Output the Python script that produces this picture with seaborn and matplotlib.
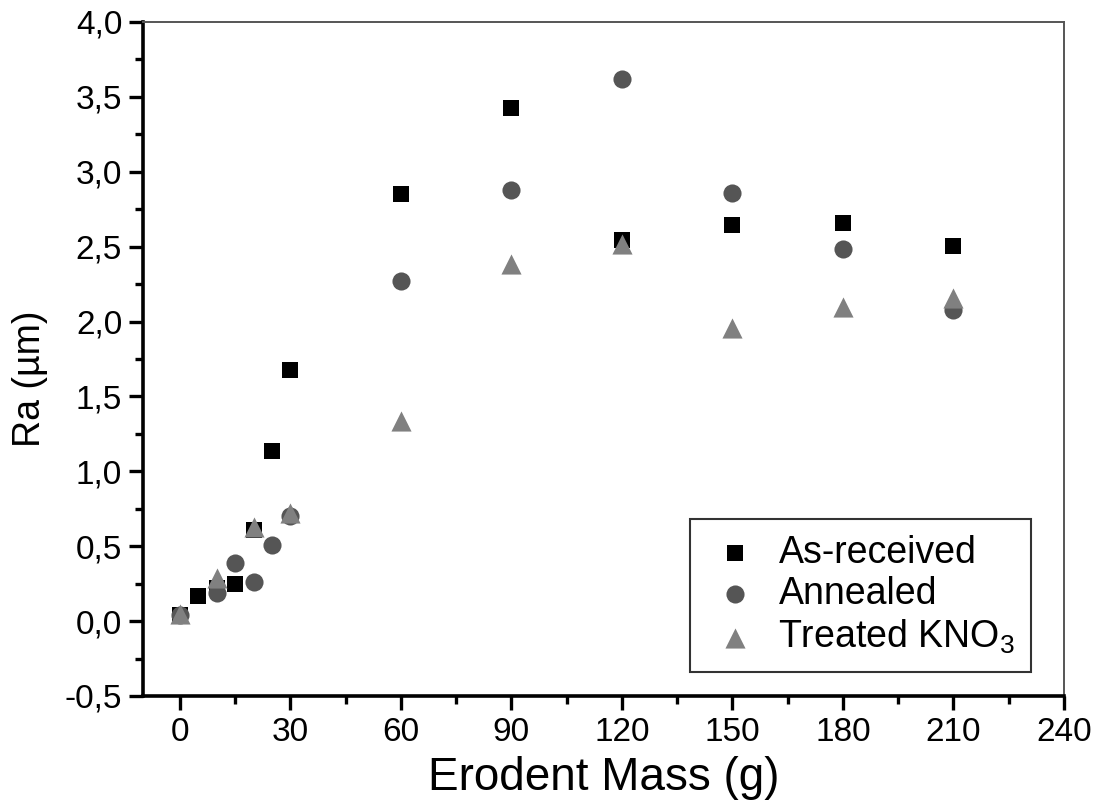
import matplotlib
matplotlib.use("Agg")
import matplotlib.pyplot as plt
import matplotlib.ticker as mticker
import seaborn as sns
import pandas as pd

# Data
as_x = [0, 5, 10, 15, 20, 25, 30, 60, 90, 120, 150, 180, 210]
as_y = [0.04, 0.17, 0.22, 0.245, 0.61, 1.137, 1.676, 2.85, 3.427, 2.545, 2.645, 2.656, 2.507]

an_x = [0, 10, 15, 20, 25, 30, 60, 90, 120, 150, 180, 210]
an_y = [0.04, 0.19, 0.39, 0.26, 0.507, 0.70, 2.268, 2.877, 3.617, 2.857, 2.486, 2.08]

tr_x = [0, 10, 20, 30, 60, 90, 120, 150, 180, 210]
tr_y = [0.05, 0.29, 0.63, 0.72, 1.335, 2.385, 2.515, 1.96, 2.10, 2.155]

labels = ["As-received", "Annealed", "Treated KNO$_3$"]

sns.set_style("ticks")
plt.rcParams['font.family'] = ['Liberation Sans', 'DejaVu Sans']
plt.rcParams['mathtext.fontset'] = 'custom'
plt.rcParams['mathtext.rm'] = 'Liberation Sans'
plt.rcParams['mathtext.it'] = 'Liberation Sans'
plt.rcParams['text.color'] = 'black'
plt.rcParams['axes.labelcolor'] = 'black'
plt.rcParams['xtick.color'] = 'black'
plt.rcParams['ytick.color'] = 'black'

fig = plt.figure(figsize=(11.01, 8.08), dpi=100)
ax = fig.add_axes([143/1101, 1-696/808, (1064-143)/1101, (696-22)/808])

sns.scatterplot(x=as_x, y=as_y, ax=ax, marker='s', color='black', s=120,
                linewidth=0, label=labels[0], zorder=3)
sns.scatterplot(x=an_x, y=an_y, ax=ax, marker='o', color='#555555', s=170,
                linewidth=0, label=labels[1], zorder=4)
sns.scatterplot(x=tr_x, y=tr_y, ax=ax, marker='^', color='#808080', s=210,
                linewidth=0, label=labels[2], zorder=5)

ax.set_xlim(-10, 240)
ax.set_ylim(-0.5, 4.0)
ax.set_xticks(range(0, 241, 30))
ax.set_yticks([-0.5 + 0.5*i for i in range(10)])
ax.xaxis.set_minor_locator(mticker.MultipleLocator(15))
ax.yaxis.set_minor_locator(mticker.MultipleLocator(0.25))
ax.yaxis.set_major_formatter(mticker.FuncFormatter(lambda v, p: f"{v:.1f}".replace('.', ',')))

ax.tick_params(axis='both', which='major', direction='out', length=10, width=2.4,
               labelsize=24, colors='black', pad=5)
ax.tick_params(axis='both', which='minor', direction='out', length=6, width=2.4)
ax.tick_params(top=False, right=False, which='both')

for s in ['left', 'bottom']:
    ax.spines[s].set_linewidth(2.6)
    ax.spines[s].set_color('black')
for s in ['top', 'right']:
    ax.spines[s].set_linewidth(1.4)
    ax.spines[s].set_color('#555555')

ax.set_xlabel("Erodent Mass (g)", fontsize=33, labelpad=6)
ax.set_ylabel("Ra (\u00b5m)", fontsize=27)
ax.yaxis.set_label_coords(-0.103, 0.47)

leg = ax.legend(loc='lower right', bbox_to_anchor=((1031-143)/(1064-143), (696-672)/(696-22)),
                fontsize=27, frameon=True, fancybox=False, edgecolor='black',
                handlelength=1.6, handletextpad=0.35, borderpad=0.42, labelspacing=0.15,
                borderaxespad=0, markerscale=1.0)
leg.get_frame().set_linewidth(1.5)

fig.savefig("out.png", dpi=100)
